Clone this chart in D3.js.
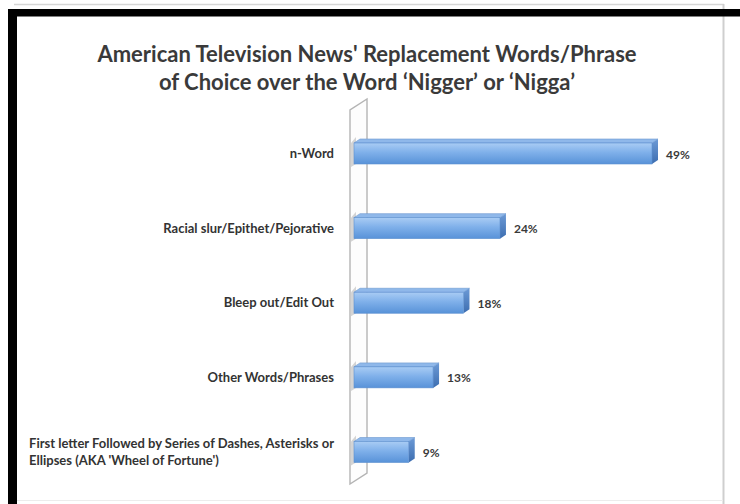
<!DOCTYPE html>
<html>
<head>
<meta charset="utf-8">
<script src="https://cdn.jsdelivr.net/npm/d3@7"></script>
<style>
  html, body { margin: 0; padding: 0; background: #fff; }
  svg { display: block; }
</style>
</head>
<body>
<svg id="chart" width="740" height="504"></svg>
<script>
// Replacement words used in place of the slur, share of usage (%)
const categories = [
  "n-Word",
  "Racial slur/Epithet/Pejorative",
  "Bleep out/Edit Out",
  "Other Words/Phrases",
  "First letter Followed by Series of Dashes, Asterisks or\nEllipses (AKA 'Wheel of Fortune')"
];
const shares = [49, 24, 18, 13, 9];
const valueLabels = ["49%", "24%", "18%", "13%", "9%"];
const titleLines = [
  "American Television News' Replacement Words/Phrase",
  "of Choice over the Word \u2018Nigger\u2019 or \u2018Nigga\u2019"
];

const svg = d3.select("#chart");
const W = 740, H = 504;
const font = "Lato, 'Open Sans', sans-serif";

// frame: faint grey outline with a heavy black border at top and left
svg.append("rect").attr("width", W).attr("height", H).attr("fill", "#fff");
svg.append("line").attr("x1", 14).attr("x2", 724).attr("y1", 4.5).attr("y2", 4.5)
  .attr("stroke", "#d6d6d6").attr("stroke-width", 1.5);
svg.append("line").attr("x1", 723.5).attr("x2", 723.5).attr("y1", 4).attr("y2", H)
  .attr("stroke", "#cfcfcf").attr("stroke-width", 2);
svg.append("line").attr("x1", 17).attr("x2", 723).attr("y1", 500.5).attr("y2", 500.5)
  .attr("stroke", "#ececec").attr("stroke-width", 1);
svg.append("rect").attr("x", 8).attr("y", 9).attr("width", W - 8).attr("height", 7.5).attr("fill", "#000");
svg.append("rect").attr("x", 8).attr("y", 9).attr("width", 9).attr("height", H - 9).attr("fill", "#000");

// title
svg.append("g").selectAll("text").data(titleLines).join("text")
  .attr("x", 367).attr("y", (d, i) => 62 + i * 28)
  .attr("text-anchor", "middle")
  .attr("font-family", font).attr("font-weight", 700).attr("font-size", 22)
  .attr("fill", "#3a3a3a")
  .text(d => d);

// scales
const x = d3.scaleLinear().domain([0, 49]).range([354, 652]);
const y = d3.scalePoint().domain(categories).range([153.5, 452]);
const barH = 21;
const depth = { dx: 6, dy: -4 };

// 3D side wall behind the category axis
const wall = { x: 350, top: 110, bottom: 484, dx: 17, dy: -11 };
svg.append("path")
  .attr("d", `M${wall.x},${wall.bottom} L${wall.x},${wall.top} L${wall.x + wall.dx},${wall.top + wall.dy}
              L${wall.x + wall.dx},${wall.bottom + wall.dy} Z`)
  .attr("fill", "#fdfdfd").attr("stroke", "#b4b4b4").attr("stroke-width", 1.4);

// bar gradients
const defs = svg.append("defs");
const gFront = defs.append("linearGradient").attr("id", "front").attr("x1", 0).attr("x2", 0).attr("y1", 0).attr("y2", 1);
gFront.append("stop").attr("offset", "0%").attr("stop-color", "#a9ccf4");
gFront.append("stop").attr("offset", "45%").attr("stop-color", "#7fb0ea");
gFront.append("stop").attr("offset", "100%").attr("stop-color", "#5892d8");
const gSide = defs.append("linearGradient").attr("id", "side").attr("x1", 0).attr("x2", 0).attr("y1", 0).attr("y2", 1);
gSide.append("stop").attr("offset", "0%").attr("stop-color", "#6c9ad6");
gSide.append("stop").attr("offset", "100%").attr("stop-color", "#3d6eb0");

const data = categories.map((c, i) => ({ cat: c, v: shares[i], label: valueLabels[i] }));

const bars = svg.append("g").selectAll("g").data(data).join("g");

// small end cap where each bar meets the wall
bars.append("path")
  .attr("d", d => {
    const x0 = x(0), yt = y(d.cat) - barH / 2;
    return `M${x0 - 3},${yt} L${x0 + 2},${yt - 6} L${x0 + 2},${yt + barH} L${x0 - 3},${yt + barH + 3} Z`;
  })
  .attr("fill", "#c9c9c9").attr("opacity", 0.8);

// top face
bars.append("path")
  .attr("d", d => {
    const x0 = x(0), x1 = x(d.v), yt = y(d.cat) - barH / 2;
    return `M${x0},${yt} L${x0 + depth.dx},${yt + depth.dy} L${x1 + depth.dx},${yt + depth.dy} L${x1},${yt} Z`;
  })
  .attr("fill", "#8fb8ea").attr("stroke", "#6b98d0").attr("stroke-width", 0.6);

// right side face
bars.append("path")
  .attr("d", d => {
    const x1 = x(d.v), yt = y(d.cat) - barH / 2;
    return `M${x1},${yt} L${x1 + depth.dx},${yt + depth.dy} L${x1 + depth.dx},${yt + barH + depth.dy} L${x1},${yt + barH} Z`;
  })
  .attr("fill", "url(#side)");

// front face
bars.append("rect")
  .attr("x", x(0))
  .attr("y", d => y(d.cat) - barH / 2)
  .attr("width", d => x(d.v) - x(0))
  .attr("height", barH)
  .attr("fill", "url(#front)")
  .attr("stroke", "#5d8fcf").attr("stroke-width", 0.6);

// value labels
bars.append("text")
  .attr("x", d => x(d.v) + depth.dx + 8)
  .attr("y", d => y(d.cat) + 5)
  .attr("font-family", font).attr("font-weight", 700).attr("font-size", 12)
  .attr("fill", "#3a3a3a")
  .text(d => d.label);

// category labels, right edge aligned to the axis; wrapped lines share a left edge
const labelRight = 334;
const catG = svg.append("g");
data.forEach(d => {
  const lines = d.cat.split("\n");
  const t = catG.append("text")
    .attr("font-family", font).attr("font-weight", 700).attr("font-size", 13)
    .attr("fill", "#333");
  const lh = 17;
  const y0 = y(d.cat) - (lines.length - 1) * lh / 2 + 4.5;
  const spans = lines.map((ln, i) => t.append("tspan").attr("y", y0 + i * lh).text(ln));
  if (lines.length === 1) {
    t.attr("text-anchor", "end");
    spans[0].attr("x", labelRight);
  } else {
    const maxW = d3.max(spans, s => s.node().getComputedTextLength());
    spans.forEach(s => s.attr("x", labelRight - maxW));
  }
});
</script>
</body>
</html>
